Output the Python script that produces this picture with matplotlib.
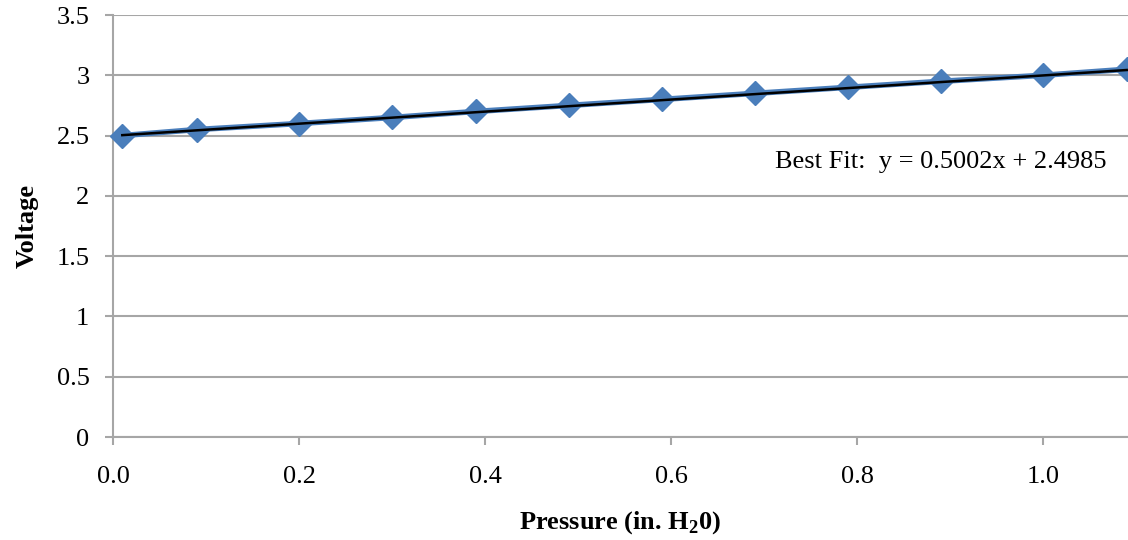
import matplotlib.pyplot as plt
import numpy as np

# measured pressure / voltage readings
pressure = [0.01, 0.09, 0.20, 0.30, 0.39, 0.49, 0.59, 0.69, 0.79, 0.89, 1.00, 1.09]
voltage = [2.50, 2.55, 2.60, 2.65, 2.70, 2.75, 2.80, 2.85, 2.90, 2.95, 3.00, 3.05]

# best fit coefficients (as printed on the chart)
slope = 0.5002
intercept = 2.4985

y_ticks = [0, 0.5, 1, 1.5, 2, 2.5, 3, 3.5]
y_tick_labels = ['0', '0.5', '1', '1.5', '2', '2.5', '3', '3.5']
x_ticks = [0.0, 0.2, 0.4, 0.6, 0.8, 1.0]
x_tick_labels = ['0.0', '0.2', '0.4', '0.6', '0.8', '1.0']

plt.rcParams['font.family'] = ['Liberation Serif', 'DejaVu Serif']
plt.rcParams['mathtext.fontset'] = 'custom'
plt.rcParams['mathtext.rm'] = 'Liberation Serif'
plt.rcParams['mathtext.bf'] = 'Liberation Serif:bold'
grid_col = '#a6a6a6'
blue = '#4a7ebb'
fs = 19

fig = plt.figure(figsize=(11.28, 5.4), dpi=100)
ax = fig.add_axes([113 / 1128, 1 - 437 / 540, 1 - 113 / 1128, (437 - 15) / 540])

ax.plot(pressure, voltage, color=blue, linewidth=4, marker='D', markersize=12,
        markerfacecolor=blue, markeredgecolor=blue, zorder=3, clip_on=False)

fit_x = np.array([pressure[0], pressure[-1]])
ax.plot(fit_x, slope * fit_x + intercept, color='black', linewidth=1.8, zorder=4)

ax.text(0.712, 2.28, f'Best Fit:  y = {slope:.4f}x + {intercept:.4f}',
        fontsize=fs, ha='left', va='center')

ax.set_xlim(0, (1128 - 113) / 930)
ax.set_ylim(0, 3.5)
ax.set_yticks(y_ticks)
ax.set_yticklabels(y_tick_labels)
ax.set_xticks(x_ticks)
ax.set_xticklabels(x_tick_labels)

ax.grid(True, axis='y', color=grid_col, linewidth=1.5)
ax.set_axisbelow(True)
for side in ['top', 'right']:
    ax.spines[side].set_visible(False)
for side in ['left', 'bottom']:
    ax.spines[side].set_color(grid_col)
    ax.spines[side].set_linewidth(1.5)

ax.tick_params(axis='both', colors=grid_col, labelcolor='black', labelsize=fs,
               length=6, width=1.5, direction='out')
ax.tick_params(axis='x', pad=15)
ax.tick_params(axis='y', pad=11)

ax.set_xlabel(r'Pressure (in. H$_{\mathbf{2}}$0)', fontsize=fs, fontweight='bold', labelpad=15)
ax.set_ylabel('Voltage', fontsize=fs, fontweight='bold', labelpad=13)

plt.savefig('out.png', dpi=100)
